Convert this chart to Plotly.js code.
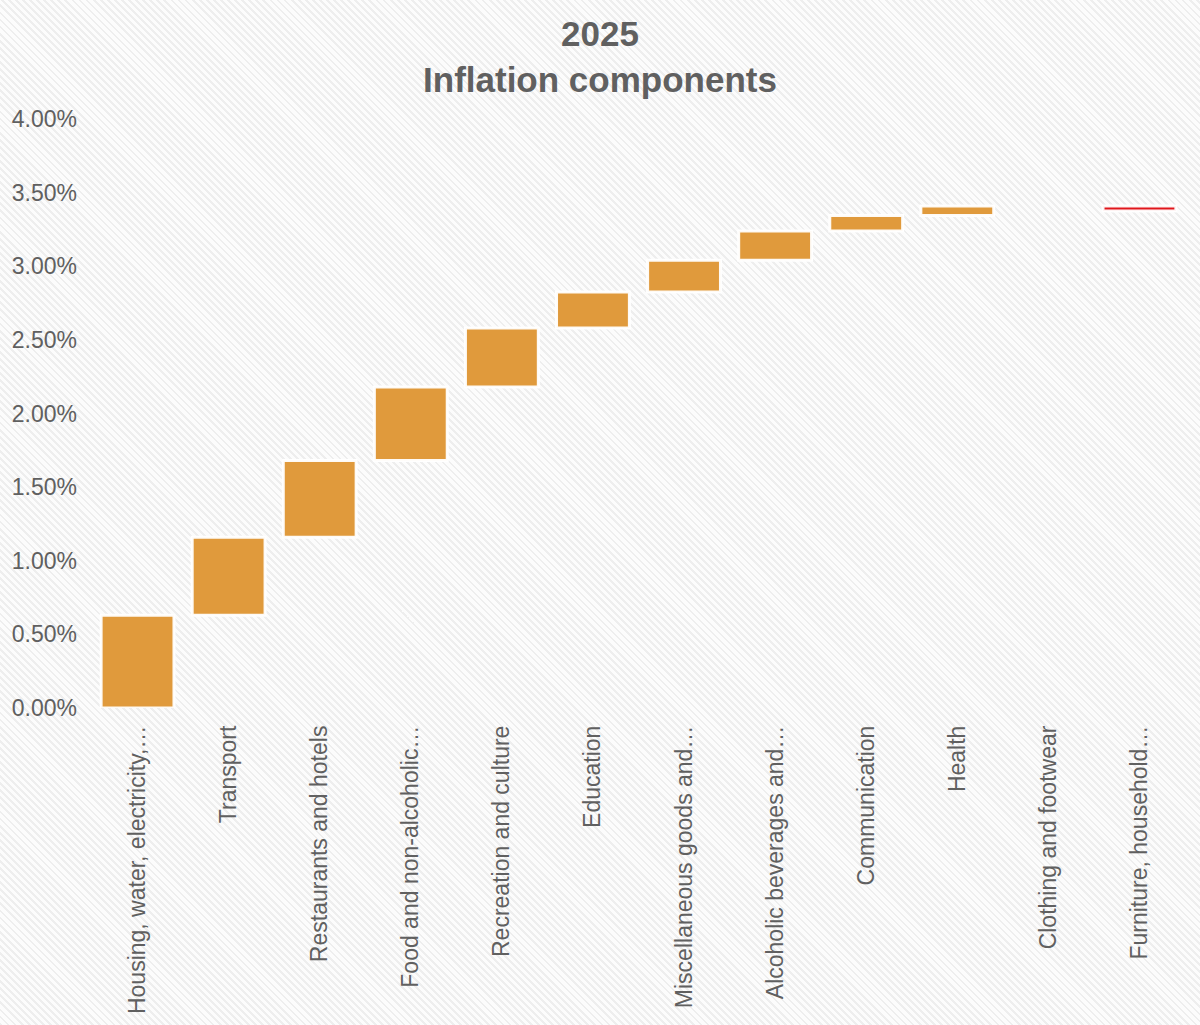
<!DOCTYPE html>
<html>
<head>
<meta charset="utf-8">
<script src="https://cdn.plot.ly/plotly-3.0.1.min.js"></script>
<style>
  html, body { margin: 0; padding: 0; }
  body {
    width: 1200px; height: 1025px; overflow: hidden;
    background: repeating-linear-gradient(45deg, #eeeeee 0px, #eeeeee 2px, #fcfcfc 2px, #fcfcfc 5px);
  }
  #chart { width: 1200px; height: 1025px; }
</style>
</head>
<body>
<div id="chart"></div>
<script>
const categories = [
  "Housing, water, electricity,…",
  "Transport",
  "Restaurants and hotels",
  "Food and non-alcoholic…",
  "Recreation and culture",
  "Education",
  "Miscellaneous goods and…",
  "Alcoholic beverages and…",
  "Communication",
  "Health",
  "Clothing and footwear",
  "Furniture, household…"
];
const contributions = [0.63, 0.53, 0.52, 0.50, 0.40, 0.245, 0.215, 0.20, 0.105, 0.065, 0, -0.035];
const yTickValues = [0, 0.5, 1, 1.5, 2, 2.5, 3, 3.5, 4];
const yTickText = yTickValues.map(v => v.toFixed(2) + "%");

const textColor = "#606060";
const fontFamily = "Liberation Sans, Arial, sans-serif";

const trace = {
  type: "waterfall",
  x: categories,
  y: contributions,
  measure: categories.map(() => "relative"),
  increasing: { marker: { color: "#E09A3C", line: { color: "rgba(255,255,255,0.95)", width: 3 } } },
  decreasing: { marker: { color: "#E0161B", line: { color: "rgba(255,255,255,0.95)", width: 3 } } },
  connector: { visible: false },
  hoverinfo: "x+y"
};

const layout = {
  width: 1200,
  height: 1025,
  paper_bgcolor: "rgba(0,0,0,0)",
  plot_bgcolor: "rgba(0,0,0,0)",
  margin: { l: 92, r: 15, t: 119, b: 317 },
  showlegend: false,
  bargap: 0.23,
  font: { family: fontFamily, color: textColor, size: 22 },
  title: {
    text: "2025<br>Inflation components",
    font: { family: fontFamily, size: 35, color: textColor, weight: "bold" },
    x: 0.5, xanchor: "center",
    xref: "container",
    y: 1 - 46 / 1025, yanchor: "top", yref: "container"
  },
  xaxis: {
    type: "category",
    tickangle: -90,
    showgrid: false,
    showline: false,
    zeroline: false,
    ticks: "",
    ticklabelstandoff: 12,
    tickfont: { family: fontFamily, size: 23, color: textColor }
  },
  yaxis: {
    range: [0, 4],
    tickmode: "array",
    tickvals: yTickValues,
    ticktext: yTickText,
    showgrid: false,
    showline: false,
    zeroline: false,
    ticks: "",
    ticklabelstandoff: 14,
    tickfont: { family: fontFamily, size: 23, color: textColor }
  }
};

Plotly.newPlot("chart", [trace], layout, { displayModeBar: false, staticPlot: true });
</script>
</body>
</html>
